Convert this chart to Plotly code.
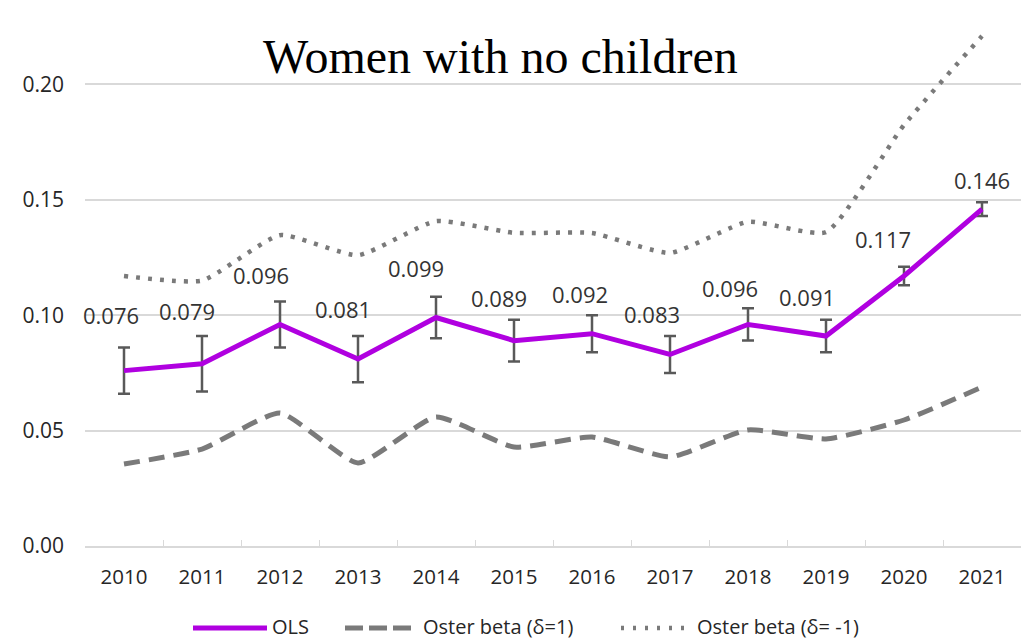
import plotly.graph_objects as go

# Survey years
years = ["2010", "2011", "2012", "2013", "2014", "2015",
         "2016", "2017", "2018", "2019", "2020", "2021"]

# OLS estimates and their confidence half-widths
ols = [0.076, 0.079, 0.096, 0.081, 0.099, 0.089,
       0.092, 0.083, 0.096, 0.091, 0.117, 0.146]
ols_err = [0.010, 0.012, 0.010, 0.010, 0.009, 0.009,
           0.008, 0.008, 0.007, 0.007, 0.004, 0.003]

# Oster bounds
oster_pos = [0.0355, 0.042, 0.0576, 0.036, 0.0559, 0.0429,
             0.0472, 0.0386, 0.0503, 0.0464, 0.0546, 0.0689]
oster_neg = [0.117, 0.115, 0.1347, 0.126, 0.1408, 0.1357,
             0.1356, 0.127, 0.1405, 0.136, 0.1824, 0.221]

y_ticks = [0.00, 0.05, 0.10, 0.15, 0.20]

series_names = ["OLS", "Oster beta (δ=1)", "Oster beta (δ= -1)"]

# Pixel offsets of the value labels relative to each OLS point
label_dx = [-13, -15, -19, -15, -20, -15, -12, -18, -18, -19, -21, 0]
label_dy = [56, 53, 49, 50, 50, 43, 40, 40, 36, 39, 37, 29]

PURPLE = "#B000E0"
GREY = "#7a7a7a"
TXT = "#262626"
SANS = "Open Sans"

# Plot-area geometry in pixels (used to place the hand-drawn legend)
W, H = 1024, 641
ML, MR, MT, MB = 85, 3, 30, 95
PW, PH = W - ML - MR, H - MT - MB

fig = go.Figure()

fig.add_trace(go.Scatter(
    x=years, y=ols, mode="lines", name=series_names[0],
    line=dict(color=PURPLE, width=5),
    error_y=dict(type="data", array=ols_err, visible=True,
                 color="#595959", thickness=2.5, width=6),
))
fig.add_trace(go.Scatter(
    x=years, y=oster_pos, mode="lines", name=series_names[1],
    line=dict(color=GREY, width=5, dash="16px,9px", shape="spline", smoothing=0.5),
))
fig.add_trace(go.Scatter(
    x=years, y=oster_neg, mode="lines", name=series_names[2],
    line=dict(color=GREY, width=4.5, dash="4px,8px", shape="spline", smoothing=0.5),
))

# Value labels above the OLS line
for i, (v, dx, dy) in enumerate(zip(ols, label_dx, label_dy)):
    fig.add_annotation(
        x=i, y=v, text=f"{v:.3f}", showarrow=False,
        xshift=dx, yshift=dy, font=dict(family=SANS, size=22, color="#333333"),
    )

# Title
fig.add_annotation(
    xref="paper", yref="paper",
    x=(500 - ML) / PW, y=(MT + PH - 57) / PH, xanchor="center", yanchor="middle",
    text="Women with no children", showarrow=False,
    font=dict(family="Liberation Serif", size=48, color="#000000"),
)

# Legend drawn below the plot: (line start px, line end px, text start px)
legend_items = [
    (193, 267, 271, dict(color=PURPLE, width=5)),
    (345, 415, 422, dict(color=GREY, width=5, dash="18px,6px")),
    (621, 690, 696, dict(color=GREY, width=4.5, dash="3px,9px")),
]
leg_line_y = (MT + PH - 628) / PH
leg_text_y = (MT + PH - 626) / PH
for (x0, x1, xt, ln), name in zip(legend_items, series_names):
    fig.add_shape(
        type="line", xref="paper", yref="paper",
        x0=(x0 - ML) / PW, x1=(x1 - ML) / PW, y0=leg_line_y, y1=leg_line_y,
        line=ln,
    )
    fig.add_annotation(
        xref="paper", yref="paper", x=(xt - ML) / PW, y=leg_text_y,
        xanchor="left", yanchor="middle", text=name, showarrow=False,
        font=dict(family=SANS, size=20, color=TXT), borderpad=0,
    )

fig.update_layout(
    width=W, height=H,
    margin=dict(l=ML, r=MR, t=MT, b=MB),
    paper_bgcolor="white", plot_bgcolor="white",
    font=dict(family=SANS, size=20, color=TXT),
    showlegend=False,
)

fig.update_xaxes(
    type="category", showgrid=False,
    showline=True, linecolor="#d9d9d9", linewidth=1.5,
    ticks="inside", tickson="boundaries", ticklen=6, tickcolor="#d9d9d9",
    tickfont=dict(family=SANS, size=20.5, color=TXT),
    ticklabelstandoff=12,
    range=[-0.5, 11.5],
)
fig.update_yaxes(
    range=[0, 0.2236], tickvals=y_ticks, ticktext=[f"{t:.2f}" for t in y_ticks],
    showgrid=True, gridcolor="#d9d9d9", gridwidth=1.5,
    zeroline=False, showline=False, ticks="",
    tickfont=dict(family=SANS, size=21, color=TXT),
    ticklabelstandoff=20,
)

fig.write_html("out.html")
